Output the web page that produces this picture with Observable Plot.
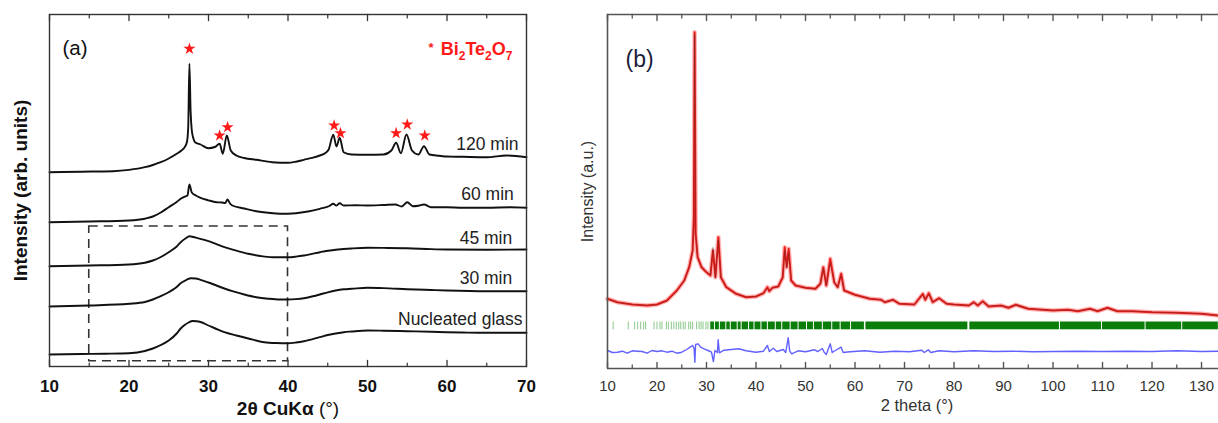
<!DOCTYPE html>
<html>
<head>
<meta charset="utf-8">
<script src="https://cdn.jsdelivr.net/npm/d3@7"></script>
<script src="https://cdn.jsdelivr.net/npm/@observablehq/plot@0.6"></script>
<style>
  html, body { margin: 0; padding: 0; background: #ffffff; }
  #wrap { position: relative; width: 1218px; height: 423px; background: #ffffff; overflow: hidden; }
  #wrap svg { position: absolute; top: 0; }
</style>
</head>
<body>
<div id="wrap"></div>
<script>
// ---------------- Panel (a) data: 2θ (deg), intensity (arb. units, offset stacked) ----------------
const glass = [[10,12],[14,12.5],[17,12.8],[20,13.3],[22,15.5],[23,18],[24,21.5],[25,26],[26,33],[26.5,38],[27,41.5],[27.5,44],[28,45.5],[28.5,45.3],[29,44.5],[30,41],[31,37.5],[32,34.3],[33.5,31],[35,28],[37,24.3],[38.5,23.5],[40,23.3],[41,24],[42,25.3],[43,27.2],[44,29.3],[45,31.5],[46,33],[47,34.3],[48,35],[50,36],[52,35.8],[55,35.3],[58,34.8],[60,34.3],[62,34],[65,33.7],[68,33.8],[70,33.7]];
const min30 = [[10,60],[15,61],[20,62.7],[22,64.5],[23,67],[24,70.3],[25,74.3],[26,79.5],[26.5,83.3],[27.2,86.5],[27.8,88.3],[28.4,88],[29,86.7],[30,84],[31,81],[32,78],[33,75.3],[34.5,72],[36,69.3],[37.5,67.8],[39,67],[40,67],[41,67.4],[42,68.3],[43,70],[44,72],[45,74.2],[46,76],[47,77.2],[48,77.7],[50,78.7],[52,78.4],[55,77.3],[58,76.5],[60,76],[65,75.3],[70,75.3]];
const min45 = [[10,100.3],[15,101],[20,102],[22,103.8],[23,106],[24,109.5],[25,114.3],[26,120],[26.5,124.3],[27.1,128],[27.6,130.3],[28.1,129.5],[28.5,128.7],[29.2,127.2],[30,125.3],[31,122.3],[32,119.3],[33.5,115.8],[35,112.7],[36.5,110.5],[38,109.3],[40,109.3],[41,109.9],[42,111],[43,112.6],[44,114.3],[45,115.8],[46,116.7],[48,118],[50,118.7],[52,118.6],[55,118.3],[58,117.4],[60,117],[65,116.7],[70,117]];
const min60 = [[10,144.3],[15,145],[20,146],[22,147.8],[23,150],[24,154],[25,159.3],[26,164.5],[26.5,167.7],[27.0,169.8],[27.35,171],[27.6,182],[27.9,174],[28.4,171],[29,168.7],[30,166.2],[31,164.3],[31.7,164],[32.1,163.5],[32.4,167],[32.7,163],[33,161],[34.5,158],[36,155.3],[37.5,153.7],[39,152.7],[41,153.3],[42.5,155],[44,157.7],[45.2,160.5],[45.7,162.7],[46.1,161],[46.5,163.3],[47,161],[48.5,161.3],[50,161],[52,161.5],[53.5,162],[54.3,160],[55,164.3],[55.7,160.3],[56.4,160.8],[57.1,162],[58,159.3],[60,159.2],[62,158.8],[65,158.7],[68,159.2],[70,158.7]];
const min120 = [[10,194.3],[14,194.8],[18,195.3],[20,196.6],[22,199.3],[23,201.5],[24,204.3],[25,208],[26,212.7],[26.6,216],[27,219.3],[27.3,225],[27.45,240],[27.6,302.7],[27.75,255],[27.9,236],[28.1,228],[28.3,224.3],[29,222],[30,218.3],[30.8,219.5],[31.4,222.7],[31.8,212.7],[32.3,231],[32.8,216],[33.5,211],[34.5,208.5],[36,206.7],[38,204.3],[40,203.7],[41,204.8],[42,206.7],[43,208.6],[44,211],[44.7,213.5],[45.1,216.7],[45.7,231.7],[46.1,220],[46.5,228.7],[47,214.3],[48,212],[50,211.7],[52,212],[53,216],[53.6,223.7],[54.2,213.3],[54.9,232],[55.6,216],[56.4,212],[57.1,220.3],[57.8,212],[59,210.8],[60,210],[62,209.7],[65,209.3],[67.5,211],[70,209.3]];
const curvesA = [glass, min30, min45, min60, min120];

// Bi2Te2O7 reflections marked by asterisks: [2θ, height]
const starsA = [[27.6,317.7],[31.4,231],[32.4,239.3],[45.8,241],[46.6,233.3],[53.6,233.3],[55.0,242],[57.2,231]];

// Curve labels: [text, 2θ at right end, height]
const labelsA = [["120 min",69.0,222],["60 min",68.4,171.7],["45 min",68.2,127.7],["30 min",68.2,88.5],["Nucleated glass",69.5,46.7]];

// Dashed region: 2θ range and intensity range
const boxA = [{x1: 15, x2: 40, y1: 5.3, y2: 140}];

const majorTicksA = [10, 20, 30, 40, 50, 60, 70];
const minorTicksA = [15, 25, 35, 45, 55, 65];

// ---------------- Panel (b) data: Rietveld fit ----------------
const bx    = [10,12,15,18,20,22,24,25.5,26.5,27.2,27.45,27.6,27.8,28.2,29,30,30.8,31.3,31.8,32.4,32.9,34,36,38,40,41.5,42.3,42.7,43.3,44.5,45.4,45.8,46.2,46.6,47.1,48,50,52,53,53.6,54.2,55,55.8,56.5,57.2,57.8,60,63,65.3,66,67.7,69,72,73.7,74.2,74.9,75.7,77,78.5,80,83,84,84.8,85.8,87,89.5,91,92.5,95,100,103,105,107.5,109,111,113,116,120,125,130,133.4];
const yobs  = [69.7,66.3,64,63,64,68,78,88,101.3,118,151.3,336.3,135,111.3,101.3,96.3,93,118,91.3,131.3,91.3,81.3,74.7,71.3,72,75.3,81.3,77.3,80.7,82,91.3,121.3,101.3,119.7,88,83,80.7,79.7,84.7,101.3,83,109.7,86.3,81.3,94.7,78,73.7,69.7,68.7,66.3,68.7,64.7,64,74.7,68.7,75.3,66.3,70.3,64.7,64,63,66.3,63,67.3,62,63,60.7,63.7,59.7,58,58.7,57.3,59.7,57.3,60.7,57.3,57.3,56.3,55.7,54.7,53];
const ycalc = [69.3,66,64.2,63.2,63.8,67.5,77.5,87.5,101,117,150,334,136,111,101,96,93.5,121.3,91,128,91,81.5,74.5,71.5,72,75,80,77.5,80.5,82,91,118,101,116,88.5,83,80.5,79.8,84.5,100,83.3,106,86.5,81.5,93,78.3,73.5,69.8,68.5,66.5,68.5,64.8,64,74,68.8,74.5,66.5,70,64.8,64,63.2,66,63.2,67,62.3,63,60.8,63.5,59.8,58.2,58.6,57.5,59.5,57.5,60.3,57.5,57.3,56.4,55.7,54.8,53.2];
const diffB = [[10,18],[11,16],[12,16.3],[13,17.3],[14,15.3],[15,17.7],[16,17.3],[17,17],[18,15.3],[19,18],[20,17],[21,17.7],[22,16.3],[23,17.3],[24,15.3],[25,16.3],[26,19],[26.7,21.3],[27.2,23],[27.5,20],[27.65,6.3],[27.8,24],[28.3,24.7],[28.8,21.3],[29.5,19.7],[30.3,18],[31,16.3],[31.4,7],[31.7,18],[32.2,16],[32.35,28.7],[32.6,15.7],[33.5,18.3],[35,19],[36.5,19.7],[38,17.7],[40,16.3],[41.5,17.3],[42.3,23],[42.7,17],[43.5,20.3],[44.2,17],[45.5,19],[46,16],[46.5,30.7],[46.8,17.7],[47.2,14.7],[48.5,17.7],[50,16.7],[51.8,18.7],[52.5,17],[53.4,20],[53.8,16],[54.2,14],[55,24.7],[55.4,16],[56,18],[57.2,21.3],[57.6,16],[59,16.7],[62,17.7],[65,16.3],[68,17.3],[71,16.7],[73.5,18.3],[74,16],[74.8,18.7],[75.3,16],[77,17.7],[80,16.7],[84,17.7],[88,17],[92,17.3],[96,16.7],[100,17],[105,17.3],[110,17],[115,17.3],[120,17],[125,17.7],[130,17],[133.4,17.3]];

// Bragg reflection positions: isolated lines and dense clusters
const braggLines = [11.15,14.2,15.5,16.1,16.7,17.3,17.7,19.4,20.0,20.6,21.0,21.9,22.3,22.9,23.4,23.9,24.4,24.8,25.3,25.7,26.4,26.8,27.2,28.0,28.5,28.9,29.3,29.9,30.3,30.8];
const braggSegs = [[30.9,31.6],[31.8,32.6],[32.8,33.9],[34.1,34.8],[35.0,36.2],[36.4,37.0],[37.2,38.5],[38.7,39.6],[39.8,41.0],[41.2,42.3],[42.5,43.9],[44.1,45.2],[45.4,46.9],[47.1,48.5],[48.7,50.2],[50.4,51.6],[51.8,53.4],[53.6,55.3],[55.5,57.0],[57.2,59.1],[59.3,61.9],[62.2,82.8],[83.2,101.3],[101.5,109.8],[110.0,118.6],[118.8,126.0],[126.2,133.4]];
const braggRow = [38.7, 46.5];

const majorTicksB = [10,20,30,40,50,60,70,80,90,100,110,120,130];
const minorTicksB = [15,25,35,45,55,65,75,85,95,105,115,125];

// ---------------- helpers ----------------
const font = "'Liberation Sans', Arial, Helvetica, sans-serif";
const tickShape = { draw(context, l) { context.moveTo(0, 0); context.lineTo(0, -l); } };

function tickMarks(values, len, color, width) {
  return [
    Plot.vector(values, {x: d => d, frameAnchor: "bottom", length: len, anchor: "start", shape: tickShape, stroke: color, strokeWidth: width}),
    Plot.vector(values, {x: d => d, frameAnchor: "top", length: len, rotate: 180, anchor: "start", shape: tickShape, stroke: color, strokeWidth: width})
  ];
}

function rich(svg, content, parts) {
  d3.select(svg).selectAll("text").filter(function () { return this.textContent === content; }).each(function () {
    const t = d3.select(this);
    t.text(null);
    for (const p of parts) {
      const s = t.append("tspan").text(p.text);
      if (p.weight) s.attr("font-weight", p.weight);
      if (p.size) s.attr("font-size", p.size);
      if (p.dy) s.attr("dy", p.dy);
    }
  });
}

// ---------------- Panel (a) ----------------
const plotA = Plot.plot({
  width: 545, height: 423,
  marginLeft: 49, marginRight: 19, marginTop: 14, marginBottom: 57,
  style: {fontFamily: font, background: "white", overflow: "visible"},
  x: {domain: [10, 70]},
  y: {domain: [0, 352], axis: null},
  marks: [
    Plot.rect(boxA, {x1: "x1", x2: "x2", y1: "y1", y2: "y2", fill: "none", stroke: "#333", strokeWidth: 1.6, strokeDasharray: "9,6"}),
    ...curvesA.map(c => Plot.line(c, {x: d => d[0], y: d => d[1], curve: "monotone-x", stroke: "#111", strokeWidth: 1.9})),
    Plot.dot(starsA, {x: d => d[0], y: d => d[1], symbol: "star", r: 3.8, fill: "#ff1a1a", stroke: "none"}),
    Plot.text(labelsA, {x: d => d[1], y: d => d[2], text: d => d[0], textAnchor: "end", fontSize: 17.5, fill: "#222"}),
    Plot.frame({stroke: "#333", strokeWidth: 1.4}),
    ...tickMarks(majorTicksA, 6, "#333", 1.3),
    ...tickMarks(minorTicksA, 3.5, "#333", 1.2),
    Plot.axisX(majorTicksA, {anchor: "bottom", tickSize: 0, tickPadding: 13, fontSize: 17, fontWeight: "bold", fill: "#111", label: null, tickFormat: d => String(d)}),
    Plot.text(["2θ CuKα (°)"], {frameAnchor: "bottom", dy: 48, textAnchor: "middle", fontSize: 19, fontWeight: "bold", fill: "#111"}),
    Plot.text(["Intensity (arb. units)"], {frameAnchor: "left", dx: -29, rotate: -90, textAnchor: "middle", fontSize: 19, fontWeight: "bold", fill: "#111"}),
    Plot.text(["(a)"], {frameAnchor: "top-left", dx: 13, dy: 26, textAnchor: "start", fontSize: 20.5, fill: "#111"}),
    Plot.text(["* Bi2Te2O7"], {frameAnchor: "top-right", dx: -14, dy: 28, textAnchor: "end", fontSize: 18, fontWeight: "bold", fill: "#ff1a1a"})
  ]
});
rich(plotA, "2θ CuKα (°)", [{text: "2θ CuKα "}, {text: "(°)", weight: "normal"}]);
rich(plotA, "* Bi2Te2O7", [
  {text: "*  ", size: 13, dy: -3}, {text: "Bi", dy: 3}, {text: "2", size: 12, dy: 5},
  {text: "Te", dy: -5}, {text: "2", size: 12, dy: 5}, {text: "O", dy: -5}, {text: "7", size: 12, dy: 5}
]);
plotA.style.left = "0px";

// ---------------- Panel (b) ----------------
const fitB = bx.map((x, i) => ({x, obs: yobs[i], calc: ycalc[i]}));
const plotB = Plot.plot({
  width: 673, height: 423,
  marginLeft: 62, marginRight: 0, marginTop: 14, marginBottom: 55,
  style: {fontFamily: font, background: "white", overflow: "visible"},
  x: {domain: [10, 133.43]},
  y: {domain: [0, 354], axis: null},
  marks: [
    Plot.ruleX(braggLines, {x: d => d, y1: braggRow[0], y2: braggRow[1], stroke: "#2a9a2a", strokeOpacity: 0.55, strokeWidth: 1}),
    Plot.rect(braggSegs, {x1: d => d[0], x2: d => d[1], y1: braggRow[0], y2: braggRow[1], fill: "#0b7d0b"}),
    Plot.line(diffB, {x: d => d[0], y: d => d[1], stroke: "#3a3aff", strokeOpacity: 0.8, strokeWidth: 1.4}),
    Plot.line(fitB, {x: "x", y: "obs", stroke: "#ff5a5a", strokeOpacity: 0.45, strokeWidth: 4.5}),
    Plot.line(fitB, {x: "x", y: "obs", stroke: "#e8201c", strokeWidth: 2}),
    Plot.line(fitB, {x: "x", y: "calc", stroke: "#222", strokeOpacity: 0.35, strokeWidth: 0.8}),
    Plot.ruleX([10], {stroke: "#555", strokeWidth: 1.6}),
    Plot.ruleY([0, 354], {stroke: "#555", strokeWidth: 1.6}),
    ...tickMarks(majorTicksB, 6, "#555", 1.4),
    ...tickMarks(minorTicksB, 3.5, "#555", 1.3),
    Plot.axisX(majorTicksB, {anchor: "bottom", tickSize: 0, tickPadding: 12, fontSize: 15, fill: "#333", label: null, tickFormat: d => String(d)}),
    Plot.text(["2 theta (°)"], {frameAnchor: "bottom", dx: 4, dy: 42, textAnchor: "middle", fontSize: 16.5, fill: "#333"}),
    Plot.text(["Intensity (a.u.)"], {frameAnchor: "left", dx: -20, rotate: -90, textAnchor: "middle", fontSize: 16, fill: "#333"}),
    Plot.text(["(b)"], {frameAnchor: "top-left", dx: 18, dy: 36, textAnchor: "start", fontSize: 23, fill: "#1c1c3c"})
  ]
});
plotB.style.left = "545px";

const wrap = document.getElementById("wrap");
wrap.appendChild(plotA);
wrap.appendChild(plotB);
</script>
</body>
</html>
